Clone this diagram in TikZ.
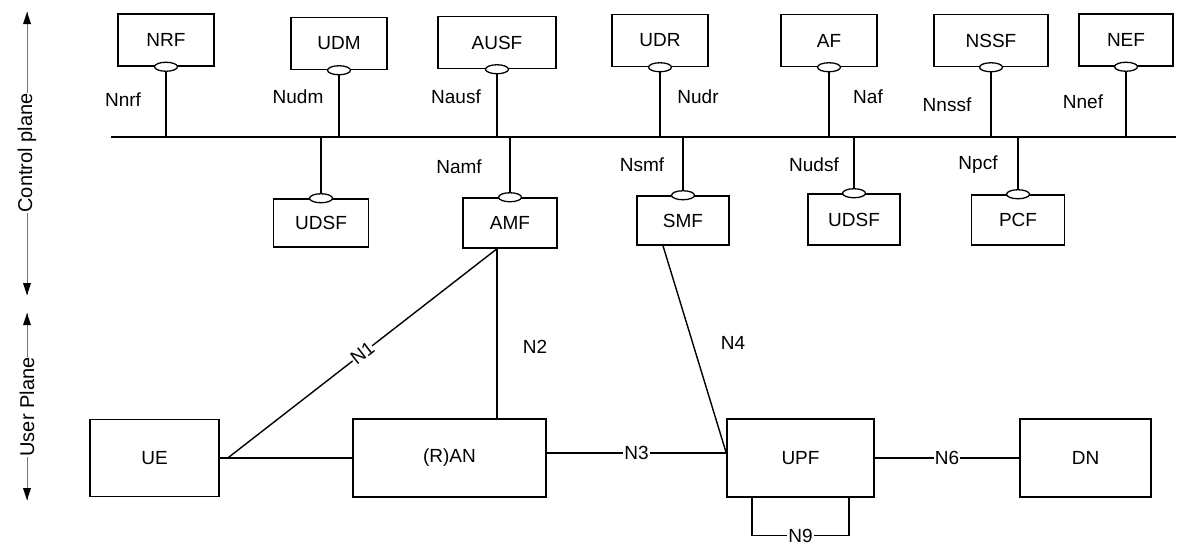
\documentclass[tikz,border=0pt]{standalone}
\usepackage{fontspec}
\setmainfont{Liberation Sans}
\usepackage{tikz}
\usetikzlibrary{calc,shapes.geometric,arrows.meta}

\tikzset{
	nf/.style={draw, line width=1.5pt, minimum width=96pt, minimum height=52pt, inner sep=0pt, font=\fontsize{19}{21}\selectfont},
	port/.style={draw, ellipse, fill=white, line width=1.3pt, minimum width=23pt, minimum height=9pt, inner sep=0pt},
	lbl/.style={font=\fontsize{19}{21}\selectfont, inner sep=1pt},
	onlbl/.style={lbl, fill=white},
	link/.style={line width=1.4pt},
	thinlink/.style={line width=1.1pt},
	axis/.style={draw=black!55, line width=1pt},
	axistip/.style={fill=black},
}

\begin{document}
\begin{tikzpicture}[x=1pt, y=-1pt]
			%%%%% START %%%%%
			\useasboundingbox (0,0) rectangle (1178,554);
			
			% planes on the left
			\coordinate (cptop) at (27,12);
			\coordinate (cpbot) at (27,295);
			\coordinate (uptop) at (27,313);
			\coordinate (upbot) at (27,500);
			\draw[axis] (cptop) -- (cpbot);
			\draw[axis] (uptop) -- (upbot);
			\foreach \t in {cptop,uptop}
				\fill[axistip] (\t) -- ++(-4,12) -- ++(8,0) -- cycle;
			\foreach \t in {cpbot,upbot}
				\fill[axistip] (\t) -- ++(-4,-12) -- ++(8,0) -- cycle;
			\node[lbl, fill=white, rotate=90, font=\fontsize{20}{22}\selectfont] (cplane) at (27,153) {Control plane};
			\node[lbl, fill=white, rotate=90, font=\fontsize{20}{22}\selectfont] (uplane) at (27,407) {User Plane};
			
			% service bus
			\coordinate (busw) at (111,137);
			\coordinate (buse) at (1176,137);
			\draw[link] (busw) -- (buse);
			
			% functions above the bus
			\node[nf] (nrf) at (166,40) {NRF};
			\node[nf] (udm) at (339,43.5) {UDM};
			\node[nf, minimum width=118pt] (ausf) at (497,42.5) {AUSF};
			\node[nf] (udr) at (660,40.5) {UDR};
			\node[nf] (af) at (829,40.5) {AF};
			\node[nf, minimum width=114pt] (nssf) at (991,40.5) {NSSF};
			\node[nf, minimum width=94pt] (nef) at (1126,40) {NEF};
			
			% functions below the bus
			\node[nf, minimum width=95pt, minimum height=48pt] (udsfa) at (321,223) {UDSF};
			\node[nf, minimum width=94pt, minimum height=50pt] (amf) at (510,223) {AMF};
			\node[nf, minimum width=92pt, minimum height=49pt] (smf) at (683,220.5) {SMF};
			\node[nf, minimum width=92pt, minimum height=51pt] (udsfb) at (854,219.5) {UDSF};
			\node[nf, minimum width=93pt, minimum height=50pt] (pcf) at (1018,220) {PCF};
			
			% interfaces
			\foreach \n in {nrf,udm,ausf,udr,af,nssf,nef}{
				\node[port] (p\n) at (\n.south) {};
				\draw[link] (p\n.south) -- (p\n.south |- busw);
			}
			\foreach \n in {udsfa,amf,smf,udsfb,pcf}{
				\node[port] (p\n) at (\n.north) {};
				\draw[link] (p\n.north) -- (p\n.north |- busw);
			}
			
			\node[lbl] (lnrf) at (123,100) {Nnrf};
			\node[lbl] (ludm) at (298,97) {Nudm};
			\node[lbl] (lausf) at (456,97) {Nausf};
			\node[lbl] (ludr) at (698,97) {Nudr};
			\node[lbl] (laf) at (868,97) {Naf};
			\node[lbl] (lnssf) at (947,105) {Nnssf};
			\node[lbl] (lnef) at (1083,102) {Nnef};
			\node[lbl] (lamf) at (459,167) {Namf};
			\node[lbl] (lsmf) at (642,165) {Nsmf};
			\node[lbl] (ludsf) at (814,165) {Nudsf};
			\node[lbl] (lpcf) at (978,165) {Npcf};
			
			% user plane
			\node[nf, minimum width=129pt, minimum height=77pt] (ue) at (154.5,458) {UE};
			\node[nf, minimum width=193pt, minimum height=78pt] (ran) at (449.5,458) {(R)AN};
			\node[nf, minimum width=147pt, minimum height=78pt] (upf) at (800.5,458) {UPF};
			\node[nf, minimum width=131pt, minimum height=78pt] (dn) at (1085.5,458) {DN};
			
			\coordinate (n1s) at ($(ue.east)+(8,0)$);
			\coordinate (amfb) at ($(amf.south)+(-13,0)$);
			\coordinate (smfb) at ($(smf.south)+(-20,0)$);
			\coordinate (ranx) at ($(ran.east)+(0,-5)$);
			\coordinate (upfw) at ($(upf.west)+(0,-5)$);
			
			\draw[link] (ue.east) -- (ran.west);
			\draw[link] (n1s) -- node[onlbl, sloped, inner sep=0pt] (ln1) {N1} (amfb);
			\draw[link] (amfb) -- (amfb |- ran.north);
			\node[lbl] (ln2) at (535,347) {N2};
			\draw[thinlink] (ranx) -- node[onlbl] (ln3) {N3} (upfw);
			\draw[link] (smfb) -- (upfw);
			\node[lbl] (ln4) at (733,343) {N4};
			\draw[thinlink] (upf.east) -- node[onlbl] (ln6) {N6} (dn.west);
			\draw[link] ($(upf.south)+(-48.5,0)$) -- ++(0,38) -| node[onlbl, pos=0.25] (ln9) {N9} ($(upf.south)+(48.5,0)$);
			
			%%%%% END %%%%%
\end{tikzpicture}
\end{document}
